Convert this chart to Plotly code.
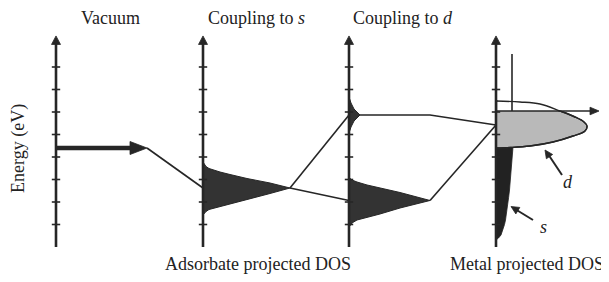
import plotly.graph_objects as go

# ---------------- data (energies in eV above axis base, DOS in diagram units) -------------
tick_energies = [1, 2, 3, 4, 5, 6, 7, 8]
axis_top_E = 9.38
vacuum_level = 4.4
ads_s_center = 2.622

# adsorbate state after coupling to s (broadened)
ads_s_E = [3.778, 3.689, 3.578, 3.489, 3.422, 3.333, 3.222, 3.044, 2.844, 2.622,
           2.378, 2.111, 1.933, 1.822, 1.733, 1.667, 1.578, 1.489, 1.422]
ads_s_dos = [0, 1, 3, 6, 10, 17, 27, 44, 67, 87, 67, 44, 27, 17, 10, 6, 3, 1, 0]

# bonding state after coupling to d
ads_d_low_E = [3.111, 3.044, 2.978, 2.889, 2.756, 2.622, 2.422, 2.067,
               1.733, 1.467, 1.333, 1.2, 1.067, 0.978, 0.889]
ads_d_low_dos = [0, 1, 3, 8, 18, 31, 51, 81, 51, 31, 18, 8, 3, 1, 0]

# antibonding state after coupling to d
ads_d_high_E = [6.667, 6.4, 6.133, 5.867, 5.6, 5.333, 5.067]
ads_d_high_dos = [0, 2, 5, 11, 5, 2, 0]

# metal d band
metal_d_E = [6.489, 6.444, 6.356, 6.044, 5.778, 5.556, 5.378, 5.156, 4.933, 4.667, 4.489, 4.422, 4.4]
metal_d_dos = [0, 24, 44, 64, 79, 88, 91, 89, 77, 57, 34, 14, 0]
d_center = 5.42

# metal s band
metal_s_E = [0.311, 0.40, 0.533, 0.756, 1.0, 1.2, 1.5, 1.778, 2.2, 2.533, 3.0, 3.422, 4.0, 4.444,
             5.2, 6.044, 8.578]
metal_s_dos = [0, 2.5, 5, 7, 8.5, 9.5, 10.6, 11.5, 12.6, 13.5, 14.5, 15.5, 16.5, 17,
               16.5, 16, 16]
fermi_E = 6.044

titles = ["Vacuum", "Coupling to <i>s</i>", "Coupling to <i>d</i>"]
bottom_labels = ["Adsorbate projected DOS", "Metal projected DOS"]

# ---------------- layout constants ----------------
W, H = 609, 282
PAGE_OFFSET = 8          # default body margin of the html page
PX_PER_EV = 22.5
Y_BASE = 247
panel_x = [56, 203, 349, 496]
INK = "#262626"
TXT = "#222222"
FONT = "Liberation Serif"


def E_of(ypx):
    return (Y_BASE - ypx) / PX_PER_EV


def y_of(E):
    return Y_BASE - E * PX_PER_EV


fig = go.Figure()


def add_line(xs, Es, width=1.6, color=INK, shape="linear"):
    fig.add_trace(go.Scatter(x=xs, y=Es, mode="lines", line=dict(color=color, width=width, shape=shape),
                             hoverinfo="skip", showlegend=False))


def add_fill(xs, Es, fill, line_color=INK, width=1.2, shape="linear"):
    fig.add_trace(go.Scatter(x=xs, y=Es, mode="lines", fill="toself", fillcolor=fill,
                             line=dict(color=line_color, width=width, shape=shape),
                             hoverinfo="skip", showlegend=False))


def arrowhead(tip, tail, length, half_w, color=INK):
    tx, ty = tip[0], y_of(tip[1])
    bx, by = tail[0], y_of(tail[1])
    dx, dy = tx - bx, ty - by
    n = (dx * dx + dy * dy) ** 0.5
    ux, uy = dx / n, dy / n
    cx, cy = tx - ux * length, ty - uy * length
    px, py = -uy, ux
    xs = [tx, cx + px * half_w, cx - px * half_w, tx]
    ys = [ty, cy + py * half_w, cy - py * half_w, ty]
    fig.add_trace(go.Scatter(x=xs, y=[E_of(v) for v in ys], mode="lines", fill="toself",
                             fillcolor=color, line=dict(color=color, width=0.8),
                             hoverinfo="skip", showlegend=False))


x1, x2, x3, x4 = panel_x

# ---------------- connecting lines ----------------
vac_tip = 147
add_line([vac_tip, x2], [vacuum_level, ads_s_center])
s_peak_x = x2 + max(ads_s_dos)
add_line([s_peak_x, x3], [ads_s_center, ads_d_high_E[3]])
add_line([s_peak_x, x3], [ads_s_center, ads_d_low_E[7]])
hi_peak_x = x3 + max(ads_d_high_dos)
add_line([hi_peak_x, 430, x4], [ads_d_high_E[3], ads_d_high_E[3], d_center])
lo_peak_x = x3 + max(ads_d_low_dos)
add_line([lo_peak_x, x4], [ads_d_low_E[7], d_center])

# ---------------- metal DOS ----------------
s_fill_E = [e for e in metal_s_E if e <= fermi_E]
s_fill_d = [d for e, d in zip(metal_s_E, metal_s_dos) if e <= fermi_E]
add_fill([x4 + d for d in s_fill_d] + [x4, x4], s_fill_E + [fermi_E, metal_s_E[0]], "#222222",
         line_color="#222222", width=0.8)
add_fill([x4 + d for d in metal_d_dos], metal_d_E, "#b9b9b9", line_color=INK, width=1.4, shape="spline")
fig.add_trace(go.Scatter(x=[x4 + 1.5, x4 + 96, x4 + 96, x4 + 1.5, x4 + 1.5],
                         y=[fermi_E, fermi_E, 6.7, 6.7, fermi_E], mode="lines", fill="toself",
                         fillcolor="white", line=dict(width=0, color="white"),
                         hoverinfo="skip", showlegend=False))
add_line([x4 + d for d in metal_d_dos], metal_d_E, width=1.4, shape="spline")
add_line([x4 + metal_s_dos[-2], x4 + metal_s_dos[-1]], [metal_s_E[-2], metal_s_E[-1]], width=1.6)

# ---------------- adsorbate DOS ----------------
add_fill([x2 + d for d in ads_s_dos], ads_s_E, "#333333", width=1.0)
add_fill([x3 + d for d in ads_d_low_dos], ads_d_low_E, "#333333", width=1.0)
add_fill([x3 + d for d in ads_d_high_dos], ads_d_high_E, "#333333", width=1.0)

# ---------------- energy axes ----------------
for px in panel_x:
    add_line([px, px], [0, axis_top_E - 0.3], width=2.6)
    arrowhead((px, axis_top_E), (px, 0), 8.5, 4.5)
    fig.add_trace(go.Scatter(x=[px] * len(tick_energies), y=tick_energies, mode="markers",
                             marker=dict(symbol="line-ew", size=6, line=dict(color=INK, width=1.6)),
                             hoverinfo="skip", showlegend=False))

add_line([x1, vac_tip - 14], [vacuum_level, vacuum_level], width=4.6)
arrowhead((vac_tip, vacuum_level), (x1, vacuum_level), 17, 6.5)

add_line([x4, 592], [fermi_E, fermi_E], width=1.6)
arrowhead((599, fermi_E), (x4, fermi_E), 9, 3.8)

add_line([562, 548], [E_of(175), E_of(154)], width=2.0)
arrowhead((545, E_of(150)), (562, E_of(175)), 8, 3.8)
add_line([533, 515], [E_of(220), E_of(209)], width=2.0)
arrowhead((511, E_of(206.5)), (533, E_of(220)), 8, 3.8)

# ---------------- text ----------------
ann = []
for t, cx in zip(titles, [110, 256, 403]):
    ann.append(dict(x=cx, y=E_of(18), text=t))
ann.append(dict(x=258, y=E_of(264), text=bottom_labels[0]))
ann.append(dict(x=527, y=E_of(264), text=bottom_labels[1]))
ann.append(dict(x=568, y=E_of(182), text="<i>d</i>"))
ann.append(dict(x=543, y=E_of(227), text="<i>s</i>"))
ann.append(dict(x=18, y=E_of(149), text="Energy (eV)", textangle=-90))
for a in ann:
    a.update(xref="x", yref="y", showarrow=False, xanchor="center", yanchor="middle", borderpad=0,
             font=dict(family=FONT, size=18, color=TXT))

fig.update_layout(
    width=W, height=H, margin=dict(l=0, r=0, t=0, b=0),
    paper_bgcolor="white", plot_bgcolor="white",
    xaxis=dict(range=[PAGE_OFFSET, W + PAGE_OFFSET], visible=False, fixedrange=True),
    yaxis=dict(range=[E_of(H + PAGE_OFFSET), E_of(PAGE_OFFSET)], visible=False, fixedrange=True),
    annotations=ann, showlegend=False,
)

fig.write_html("out.html")
